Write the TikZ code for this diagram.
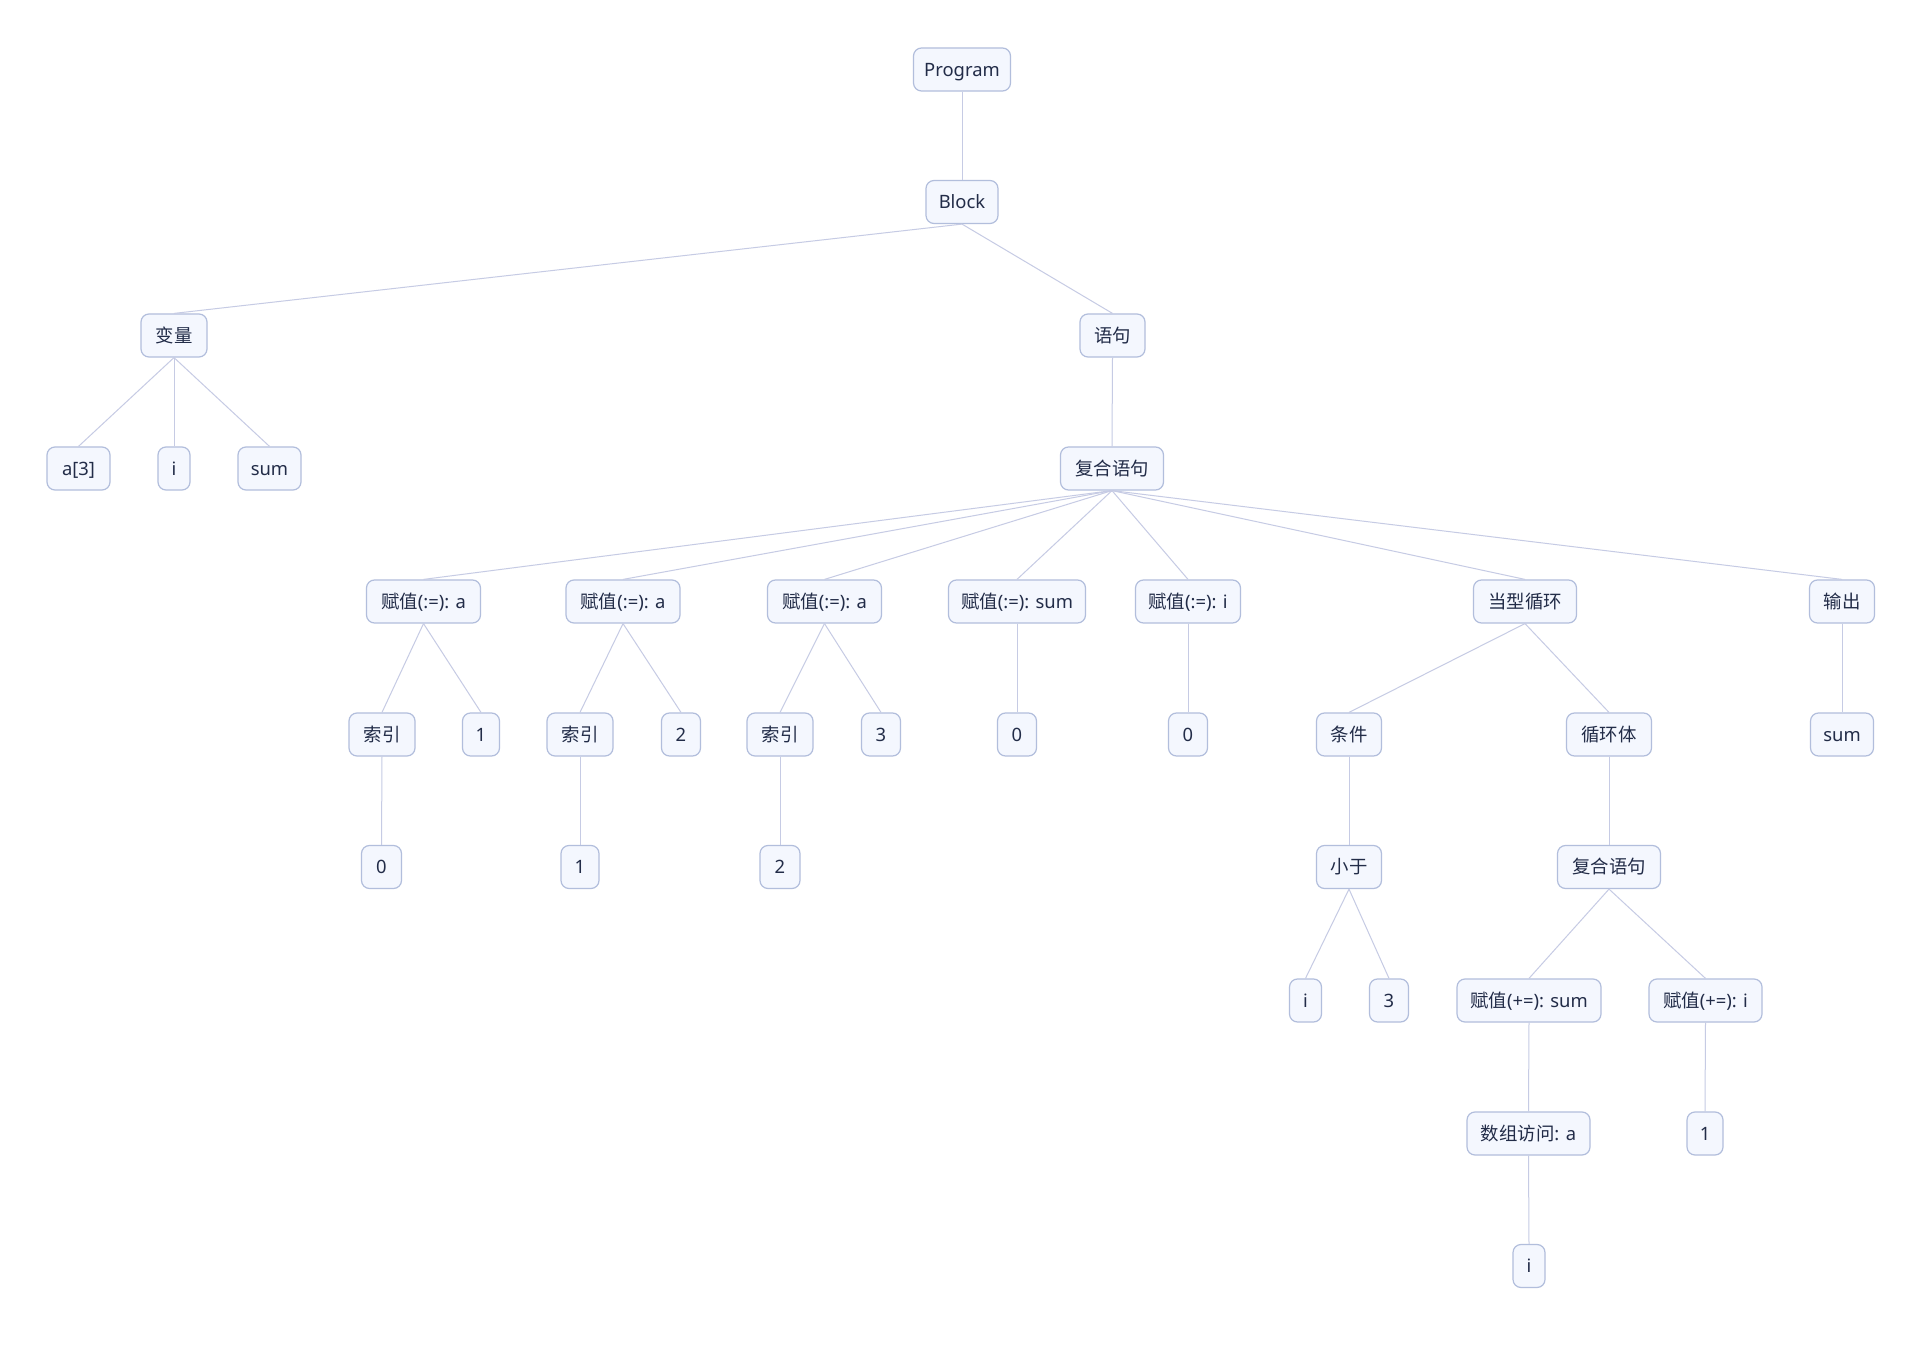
\documentclass[tikz,border=0pt]{standalone}
\usepackage{fontspec}
\setmainfont{Noto Sans}
\newfontfamily\cjk{Noto Sans CJK SC}
\newcommand{\zh}[1]{{\cjk #1}}
\definecolor{txtc}{HTML}{222C48}
\definecolor{boxfill}{HTML}{F4F7FE}
\definecolor{boxdraw}{HTML}{B2BEDC}
\definecolor{edgec}{HTML}{C6CBE4}
\tikzset{
  tn/.style={draw=boxdraw, fill=boxfill, rounded corners=4pt, line width=0.6pt,
    minimum height=21.5pt, inner xsep=0pt, inner ysep=0pt, text=txtc,
    text height=8pt, text depth=1.2pt,
    font=\fontsize{9.2pt}{11pt}\selectfont, minimum width=#1*0.5pt},
  ed/.style={draw=edgec, line width=0.5pt}
}
\begin{document}
\begin{tikzpicture}[x=0.5pt,y=-0.5pt]
\useasboundingbox[fill=white] (0,0) rectangle (1924,1358);
% level 0-1
\node[tn=97] (prog) at (962,69.5) {Program};
\node[tn=72] (block) at (962,202) {Block};
% level 2
\node[tn=66] (var) at (174,335.5) {\zh{变量}};
\node[tn=65] (stmt) at (1112.5,335.5) {\zh{语句}};
% level 3
\node[tn=63] (a3) at (78.5,468.5) {a[3]};
\node[tn=32] (vi) at (174,468.5) {i};
\node[tn=63] (vsum) at (269.5,468.5) {sum};
\node[tn=103] (comp) at (1112,468.5) {\zh{复合语句}};
% level 4
\node[tn=114] (as1) at (423.5,601.5) {\zh{赋值}(:=): a};
\node[tn=114] (as2) at (623,601.5) {\zh{赋值}(:=): a};
\node[tn=114] (as3) at (824.5,601.5) {\zh{赋值}(:=): a};
\node[tn=137] (as4) at (1017,601.5) {\zh{赋值}(:=): sum};
\node[tn=105] (as5) at (1188,601.5) {\zh{赋值}(:=): i};
\node[tn=103] (loop) at (1525,601.5) {\zh{当型循环}};
\node[tn=65] (out) at (1842,601.5) {\zh{输出}};
% level 5
\node[tn=66] (idx1) at (382,734.5) {\zh{索引}};
\node[tn=37] (n1) at (481,734.5) {1};
\node[tn=66] (idx2) at (580,734.5) {\zh{索引}};
\node[tn=39] (n2) at (681,734.5) {2};
\node[tn=66] (idx3) at (780,734.5) {\zh{索引}};
\node[tn=39] (n3) at (881,734.5) {3};
\node[tn=39] (z1) at (1017,734.5) {0};
\node[tn=39] (z2) at (1188,734.5) {0};
\node[tn=65] (cond) at (1349,734.5) {\zh{条件}};
\node[tn=85] (body) at (1609,734.5) {\zh{循环体}};
\node[tn=63] (osum) at (1842,734.5) {sum};
% level 6
\node[tn=40] (i0) at (381.5,867) {0};
\node[tn=38] (i1) at (580,867) {1};
\node[tn=40] (i2) at (780,867) {2};
\node[tn=65] (lt) at (1349,867) {\zh{小于}};
\node[tn=103] (comp2) at (1609,867) {\zh{复合语句}};
% level 7
\node[tn=32] (li) at (1305.5,1000.5) {i};
\node[tn=39] (l3) at (1389,1000.5) {3};
\node[tn=144] (pa) at (1529,1000.5) {\zh{赋值}(+=): sum};
\node[tn=113] (pb) at (1705.5,1000.5) {\zh{赋值}(+=): i};
% level 8
\node[tn=123] (arr) at (1528.5,1133.5) {\zh{数组访问}: a};
\node[tn=36] (one) at (1705,1133.5) {1};
% level 9
\node[tn=32] (ii) at (1529,1266) {i};
% edges
\foreach \p/\c in {prog/block, block/var, block/stmt, var/a3, var/vi, var/vsum,
  stmt/comp, comp/as1, comp/as2, comp/as3, comp/as4, comp/as5, comp/loop, comp/out,
  as1/idx1, as1/n1, as2/idx2, as2/n2, as3/idx3, as3/n3, as4/z1, as5/z2,
  loop/cond, loop/body, out/osum, idx1/i0, idx2/i1, idx3/i2, cond/lt, body/comp2,
  lt/li, lt/l3, comp2/pa, comp2/pb, pa/arr, pb/one, arr/ii}
  \draw[ed] (\p.south) -- (\c.north);
\end{tikzpicture}
\end{document}
